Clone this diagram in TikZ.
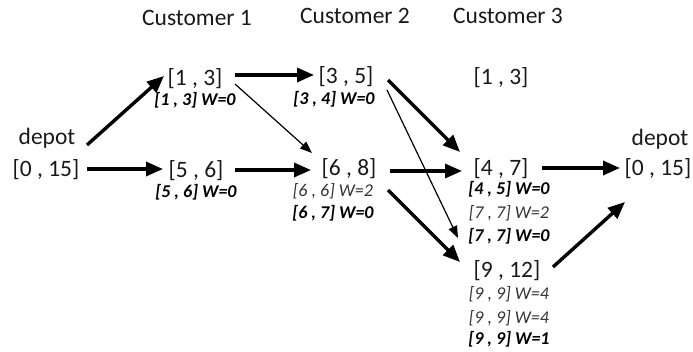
\documentclass[tikz,border=0pt]{standalone}
\usepackage{fontspec}
\setmainfont{Carlito}
\usetikzlibrary{arrows.meta}

\begin{document}
\begin{tikzpicture}[x=1pt, y=-1pt, >={Triangle[length=17pt,width=14pt]},
        win/.style={inner sep=0pt, text=black!90, font=\fontsize{23.5}{27}\selectfont},
        best/.style={inner sep=0pt, text=black, font=\fontsize{18}{21}\selectfont\bfseries\itshape},
        other/.style={inner sep=0pt, text=black!80, font=\fontsize{18}{21}\selectfont\itshape},
        fat/.style={->, line width=3.4pt},
        slim/.style={-{Triangle[length=12pt,width=9pt]}, line width=1.2pt}]
        \useasboundingbox (0,0) rectangle (693,352);

        % Column heads
        \node[win] (H-1) at (197,18) {Customer 1};
        \node[win] (H-2) at (355,16) {Customer 2};
        \node[win] (H-3) at (508,16) {Customer 3};

        % Start depot
        \node[win] (DL) at (47,138) {depot};
        \node[win] (D0) at (46,170) {[0 , 15]};

        % Customer 1
        \node[win] (A1) at (195,79) {[1 , 3]};
        \node[best] (A1-w) at (195,100) {[1 , 3] W=0};
        \node[win] (A2) at (196,171) {[5 , 6]};
        \node[best] (A2-w) at (196,192) {[5 , 6] W=0};

        % Customer 2
        \node[win] (B1) at (346,77) {[3 , 5]};
        \node[best] (B1-w) at (334,99) {[3 , 4] W=0};
        \node[win] (B2) at (349,169) {[6 , 8]};
        \node[other] (B2-w1) at (333,191) {[6 , 6] W=2};
        \node[best] (B2-w2) at (333,213) {[6 , 7] W=0};

        % Customer 3
        \node[win] (C1) at (501,78) {[1 , 3]};
        \node[win] (C2) at (501,169) {[4 , 7]};
        \node[best] (C2-w1) at (509,189) {[4 , 5] W=0};
        \node[other] (C2-w2) at (509,213) {[7 , 7] W=2};
        \node[best] (C2-w3) at (509,236) {[7 , 7] W=0};
        \node[win] (C3) at (507,271) {[9 , 12]};
        \node[other] (C3-w1) at (509,294) {[9 , 9] W=4};
        \node[other] (C3-w2) at (509,318) {[9 , 9] W=4};
        \node[best] (C3-w3) at (509,339) {[9 , 9] W=1};

        % End depot
        \node[win] (DR) at (660,139) {depot};
        \node[win] (DR0) at (658,169) {[0 , 15]};

        % Connections
        \draw[fat] ([shift={(41,-25)}]D0.center) -- ([shift={(-31,-3)}]A1.center);
        \draw[fat] ([shift={(41,-1)}]D0.center) -- ([shift={(-33,-2)}]A2.center);
        \draw[fat] ([shift={(40,-4)}]A1.center) -- ([shift={(-32,-2)}]B1.center);
        \draw[slim] ([shift={(40,5)}]A1.center) -- ([shift={(-37,-16)}]B2.center);
        \draw[fat] ([shift={(39,-1)}]A2.center) -- ([shift={(-38,1)}]B2.center);
        \draw[fat] ([shift={(42,3)}]B1.center) -- ([shift={(-41,-17)}]C2.center);
        \draw[slim] ([shift={(41,13)}]B1.center) -- ([shift={(-49,-33)}]C3.center);
        \draw[fat] ([shift={(41,2)}]B2.center) -- ([shift={(-39,2)}]C2.center);
        \draw[fat] ([shift={(39,21)}]B2.center) -- ([shift={(-47,-9)}]C3.center);
        \draw[fat] ([shift={(41,-1)}]C2.center) -- ([shift={(-38,-1)}]DR0.center);
        \draw[fat] ([shift={(46,-4)}]C3.center) -- ([shift={(-33,33)}]DR0.center);
    \end{tikzpicture}
\end{document}
